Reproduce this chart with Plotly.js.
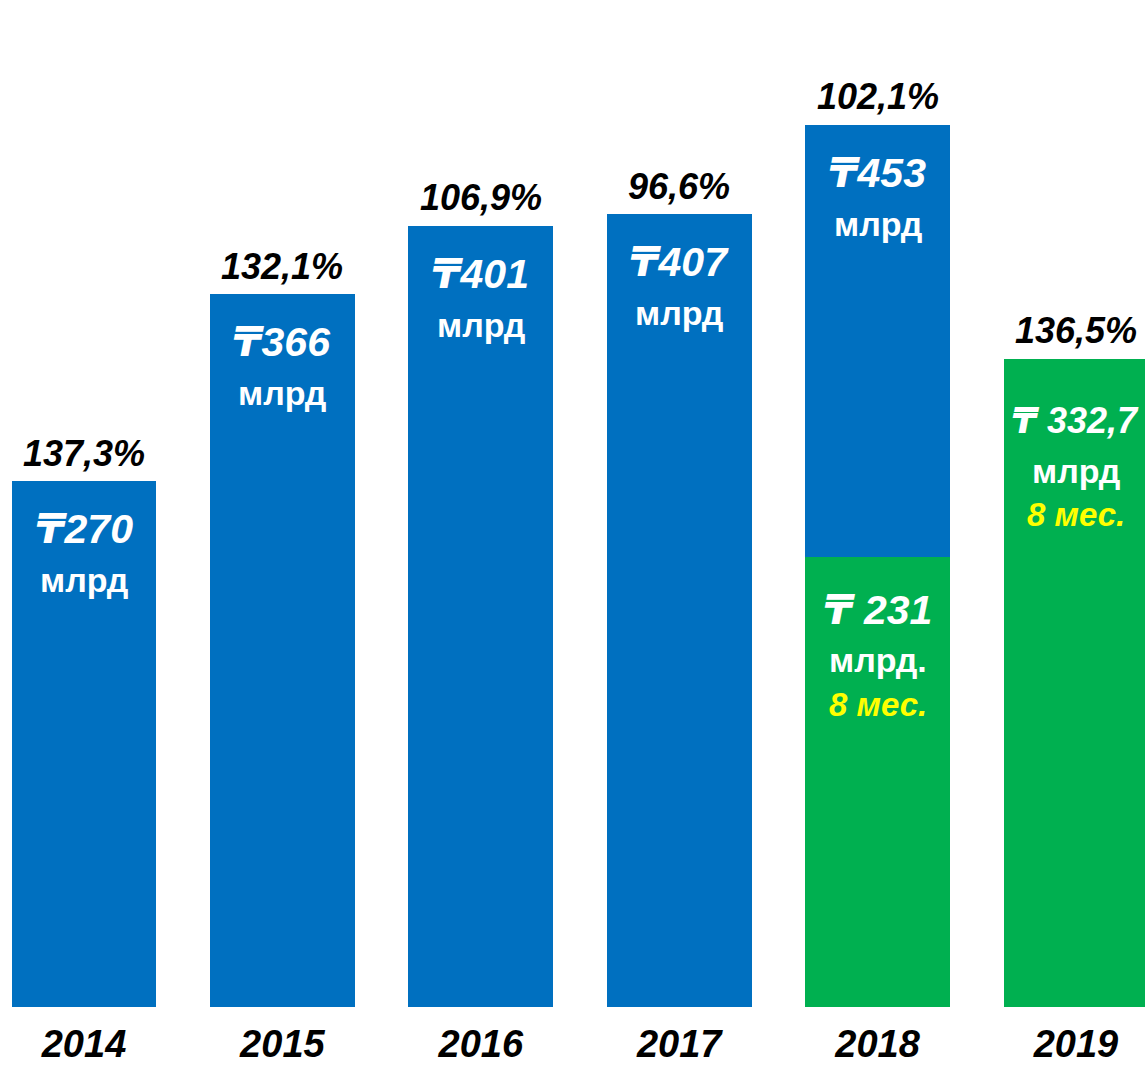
<!DOCTYPE html>
<html>
<head>
<meta charset="utf-8">
<script src="https://cdn.plot.ly/plotly-3.0.1.min.js"></script>
<style>html,body{margin:0;padding:0;background:#fff;}#chart{width:1145px;height:1068px;}</style>
</head>
<body>
<div id="chart"></div>
<script>
// ---- data ----
const years = ['2014', '2015', '2016', '2017', '2018', '2019'];
const totalValues = [270, 366, 401, 407, 453, null];       // full-year totals, bn tenge (blue)
const eightMonthValues = [null, null, null, null, 231, 332.7]; // 8-month values, bn tenge (green)
const growthLabels = ['137,3%', '132,1%', '106,9%', '96,6%', '102,1%', '136,5%'];
const totalLabels = ['₸270', '₸366', '₸401', '₸407', '₸453', null];
const eightMonthLabels = [null, null, null, null, '₸ 231', '₸ 332,7'];
const unitLabelTotal = 'млрд';
const unitLabels8m = [null, null, null, null, 'млрд.', 'млрд'];
const periodLabel = '8 мес.';

// ---- styles ----
const BLUE = '#0070C0', GREEN = '#00B050', YELLOW = '#FFFF00';
const FONT = 'Liberation Sans, DejaVu Sans, Noto Sans, sans-serif';

// blue part stacked on top of green for 2018
const blueStack = totalValues.map((v, i) => v == null ? null : v - (eightMonthValues[i] || 0));
const topValues = years.map((_, i) => Math.max(totalValues[i] || 0, eightMonthValues[i] || 0));

const traces = [
  { type: 'bar', x: years, y: eightMonthValues, marker: { color: GREEN }, hoverinfo: 'none', name: '8 мес.' },
  { type: 'bar', x: years, y: blueStack, marker: { color: BLUE }, hoverinfo: 'none', name: 'год' }
];

const ann = [];
function add(xi, y, text, size, color, shift, italic) {
  const t = italic ? '<b><i>' + text + '</i></b>' : '<b>' + text + '</b>';
  ann.push({ x: xi, y: y, xref: 'x', yref: 'y', text: t, showarrow: false,
    yanchor: 'middle', xanchor: 'center', yshift: shift,
    font: { family: FONT, size: size, color: color } });
}
years.forEach((yr, i) => {
  add(i, topValues[i], growthLabels[i], 36, '#000000', 28, true);
  if (totalLabels[i]) {
    add(i, totalValues[i], totalLabels[i], 41, '#FFFFFF', -48, true);
    add(i, totalValues[i], unitLabelTotal, 34, '#FFFFFF', -99, false);
  }
  if (eightMonthLabels[i]) {
    const big = i === 5 ? 36 : 41;
    const s1 = i === 5 ? -62 : -53;
    add(i, eightMonthValues[i], eightMonthLabels[i], big, '#FFFFFF', s1, true);
    add(i, eightMonthValues[i], unitLabels8m[i], 34, '#FFFFFF', s1 - 50, false);
    add(i, eightMonthValues[i], periodLabel, 33, YELLOW, s1 - 94, true);
  }
});

const layout = {
  width: 1145, height: 1068,
  margin: { l: 0, r: 0, t: 0, b: 61 },
  paper_bgcolor: '#ffffff', plot_bgcolor: '#ffffff',
  barmode: 'stack', bargap: 0.27, showlegend: false,
  xaxis: { type: 'category', range: [-0.4234, 5.348], showgrid: false, zeroline: false,
    showline: false, ticks: '', fixedrange: true, ticklabelstandoff: 11,
    tickfont: { family: FONT, size: 38, color: '#000000', weight: 'bold', style: 'italic' } },
  yaxis: { range: [0, 517], visible: false, showgrid: false, zeroline: false, fixedrange: true },
  annotations: ann
};

Plotly.newPlot('chart', traces, layout, { displayModeBar: false, staticPlot: true });
</script>
</body>
</html>
